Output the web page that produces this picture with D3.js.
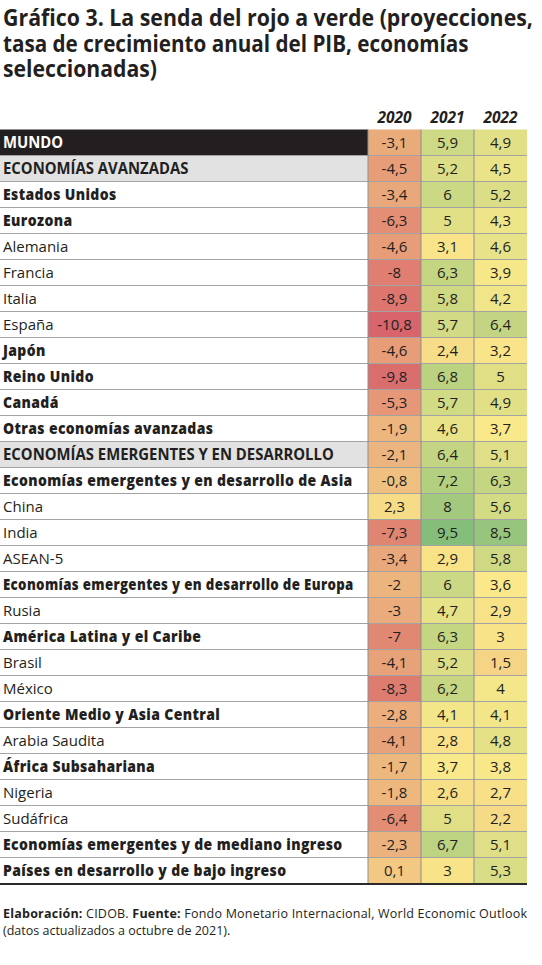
<!DOCTYPE html>
<html>
<head>
<meta charset="utf-8">
<script src="https://cdn.jsdelivr.net/npm/d3@7"></script>
<style>
  html, body { margin: 0; padding: 0; background: #fff; }
  svg { display: block; }
  text { font-family: "Open Sans", "Noto Sans", sans-serif; fill: #231f20; }
</style>
</head>
<body>
<div id="chart"></div>
<script>
// ---------------- DATA ----------------
const titleLines = [
  "Gráfico 3. La senda del rojo a verde (proyecciones,",
  "tasa de crecimiento anual del PIB, economías",
  "seleccionadas)"
];
const years = ["2020", "2021", "2022"];
const labels = [
  "MUNDO",
  "ECONOMÍAS AVANZADAS",
  "Estados Unidos",
  "Eurozona",
  "Alemania",
  "Francia",
  "Italia",
  "España",
  "Japón",
  "Reino Unido",
  "Canadá",
  "Otras economías avanzadas",
  "ECONOMÍAS EMERGENTES Y EN DESARROLLO",
  "Economías emergentes y en desarrollo de Asia",
  "China",
  "India",
  "ASEAN-5",
  "Economías emergentes y en desarrollo de Europa",
  "Rusia",
  "América Latina y el Caribe",
  "Brasil",
  "México",
  "Oriente Medio y Asia Central",
  "Arabia Saudita",
  "África Subsahariana",
  "Nigeria",
  "Sudáfrica",
  "Economías emergentes y de mediano ingreso",
  "Países en desarrollo y de bajo ingreso"
];
// aggregation level of each row
const levels = [
  "world", "group", "region", "region", "country", "country", "country", "country",
  "region", "region", "region", "region", "group", "region", "country", "country",
  "country", "region", "country", "region", "country", "country", "region", "country",
  "region", "country", "country", "region", "region"
];
const v2020 = [-3.1, -4.5, -3.4, -6.3, -4.6, -8, -8.9, -10.8, -4.6, -9.8, -5.3, -1.9, -2.1, -0.8, 2.3, -7.3, -3.4, -2, -3, -7, -4.1, -8.3, -2.8, -4.1, -1.7, -1.8, -6.4, -2.3, 0.1];
const v2021 = [5.9, 5.2, 6, 5, 3.1, 6.3, 5.8, 5.7, 2.4, 6.8, 5.7, 4.6, 6.4, 7.2, 8, 9.5, 2.9, 6, 4.7, 6.3, 5.2, 6.2, 4.1, 2.8, 3.7, 2.6, 5, 6.7, 3];
const v2022 = [4.9, 4.5, 5.2, 4.3, 4.6, 3.9, 4.2, 6.4, 3.2, 5, 4.9, 3.7, 5.1, 6.3, 5.6, 8.5, 5.8, 3.6, 2.9, 3, 1.5, 4, 4.1, 4.8, 3.8, 2.7, 2.2, 5.1, 5.3];
const sourceLine1 = [
  {t: "Elaboración:", b: true}, {t: " CIDOB. ", b: false},
  {t: "Fuente:", b: true}, {t: " Fondo Monetario Internacional, World Economic Outlook", b: false}
];
const sourceLine2 = "(datos actualizados a octubre de 2021).";

// ---------------- LAYOUT ----------------
const W = 542, H = 965;
const tableTop = 129.5, tableBottom = 883.5;
const labelRight = 368, tableRight = 527;
const maxLabelWidth = 351;

const svg = d3.select("#chart").append("svg")
  .attr("width", W).attr("height", H);
svg.append("rect").attr("width", W).attr("height", H).attr("fill", "#fff");

// helper: compress a text horizontally to a given width using a transform
function fitWidth(sel, x0, y0, target) {
  const w = sel.node().getComputedTextLength();
  const f = Math.min(1, target / w);
  sel.attr("x", 0).attr("y", 0)
     .attr("transform", `translate(${x0},${y0}) scale(${f},1)`);
}

// Title
const titleG = svg.append("g");
const titleWidths = [530, 466, 154];
titleLines.forEach((line, i) => {
  const t = titleG.append("text")
    .attr("font-size", 23.5).attr("font-weight", 700)
    .text(line);
  fitWidth(t, 3, 26 + i * 25.5, titleWidths[i]);
});

const rows = labels.map((l, i) => ({
  label: l, level: levels[i], vals: [v2020[i], v2021[i], v2022[i]], i
}));

const y = d3.scaleBand().domain(d3.range(labels.length)).range([tableTop, tableBottom]);
const x = d3.scaleBand().domain(years).range([labelRight, tableRight]);

const allVals = v2020.concat(v2021, v2022);
const color = d3.scaleLinear()
  .domain([d3.min(allVals), d3.median(allVals), d3.max(allVals)])
  .range(["#d8656b", "#fae98a", "#84be7a"])
  .interpolate(d3.interpolateRgb);

const loc = d3.formatLocale({decimal: ",", thousands: ".", grouping: [3], currency: ["", "€"], minus: "-"});
const fmt = loc.format("~f");

// Year headers
svg.append("g").selectAll("text").data(years).join("text")
  .attr("x", d => x(d) + x.bandwidth() / 2)
  .attr("y", 123)
  .attr("text-anchor", "middle")
  .attr("font-size", 15.5).attr("font-weight", 700).attr("font-style", "italic")
  .text(d => d);

// Label backgrounds
svg.append("g").selectAll("rect")
  .data(rows.filter(r => r.level === "world" || r.level === "group"))
  .join("rect")
  .attr("x", 0).attr("y", r => y(r.i))
  .attr("width", labelRight).attr("height", y.bandwidth())
  .attr("fill", r => r.level === "world" ? "#231f20" : "#e2e2e2");

// Value cells
const cellG = svg.append("g");
rows.forEach(r => {
  years.forEach((yr, j) => {
    cellG.append("rect")
      .attr("x", x(yr)).attr("y", y(r.i))
      .attr("width", x.bandwidth()).attr("height", y.bandwidth())
      .attr("fill", color(r.vals[j]));
    cellG.append("text")
      .attr("x", x(yr) + x.bandwidth() / 2)
      .attr("y", y(r.i) + y.bandwidth() / 2 + 5.5)
      .attr("text-anchor", "middle")
      .attr("font-size", 15)
      .text(fmt(r.vals[j]));
  });
});

// Grid lines
const lineG = svg.append("g");
d3.range(1, labels.length).forEach(i => {
  lineG.append("line")
    .attr("x1", 0).attr("x2", tableRight)
    .attr("y1", y(i)).attr("y2", y(i))
    .attr("stroke", "#a3a3a3").attr("stroke-width", 1);
});
[labelRight, x("2021"), x("2022")].forEach(xx => {
  lineG.append("line")
    .attr("x1", xx).attr("x2", xx)
    .attr("y1", tableTop).attr("y2", tableBottom)
    .attr("stroke", "#8f8f8f").attr("stroke-width", 1);
});
lineG.append("line")
  .attr("x1", 0).attr("x2", tableRight)
  .attr("y1", tableBottom + 0.5).attr("y2", tableBottom + 0.5)
  .attr("stroke", "#2a2a2a").attr("stroke-width", 2);

// Labels
const labG = svg.append("g");
const styleFor = {
  world:   {size: 16, weight: 700, fill: "#fff", spacing: 0},
  group:   {size: 16, weight: 700, fill: "#231f20", spacing: 0},
  region:  {size: 15, weight: 800, fill: "#231f20", spacing: 0.4},
  country: {size: 15, weight: 400, fill: "#231f20", spacing: 0}
};
const labTexts = labG.selectAll("text").data(rows).join("text")
  .attr("font-size", r => styleFor[r.level].size)
  .attr("font-weight", r => styleFor[r.level].weight)
  .attr("letter-spacing", r => styleFor[r.level].spacing)
  .style("fill", r => styleFor[r.level].fill)
  .text(r => r.label);

// horizontal compression to mimic the narrower original typeface
const refWidths = {region: ["Economías emergentes y en desarrollo de Asia", 350],
                   group: ["ECONOMÍAS EMERGENTES Y EN DESARROLLO", 331]};
const factors = {world: 1, country: 1};
labTexts.each(function(r) {
  if (refWidths[r.level] && r.label === refWidths[r.level][0]) {
    factors[r.level] = refWidths[r.level][1] / this.getComputedTextLength();
  }
});
factors.world = factors.group;
labTexts.each(function(r) {
  const sel = d3.select(this);
  const w = this.getComputedTextLength();
  const target = Math.min(w * factors[r.level], maxLabelWidth);
  fitWidth(sel, 3, y(r.i) + y.bandwidth() / 2 + 5.5, target);
});

// Source
const src1 = svg.append("text")
  .attr("x", 3).attr("y", 918)
  .attr("font-size", 12.5)
  .attr("textLength", 524).attr("lengthAdjust", "spacing");
sourceLine1.forEach(s => {
  src1.append("tspan").attr("font-weight", s.b ? 700 : 400).text(s.t);
});
svg.append("text")
  .attr("x", 3).attr("y", 935)
  .attr("font-size", 12.5)
  .text(sourceLine2);
</script>
</body>
</html>
